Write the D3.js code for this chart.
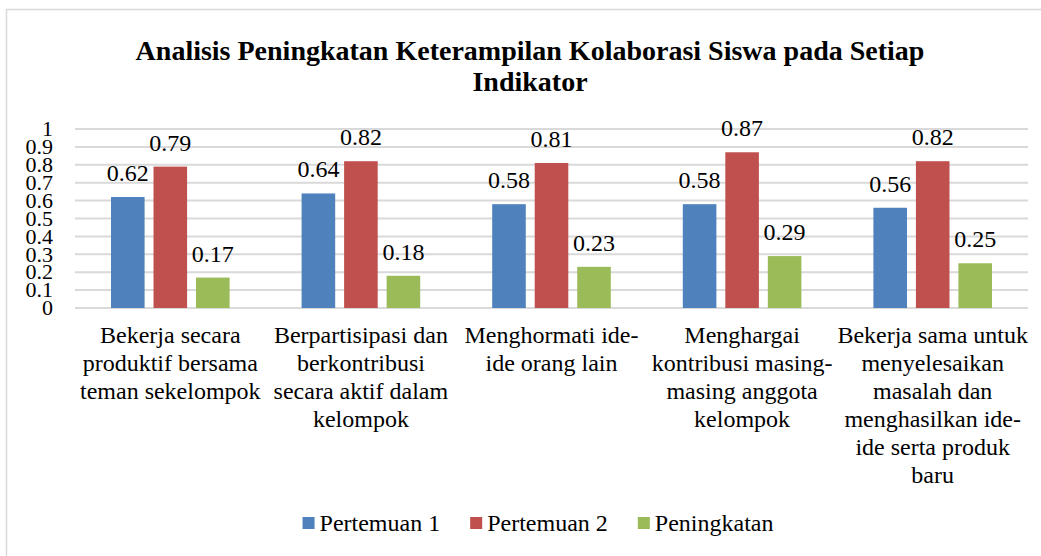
<!DOCTYPE html>
<html>
<head>
<meta charset="utf-8">
<script src="https://cdn.jsdelivr.net/npm/d3@7"></script>
<style>
  body { margin: 0; background: #fff; }
</style>
</head>
<body>
<div id="chart-area"></div>
<script>
// data
var categories = [
    "Bekerja secara produktif bersama teman sekelompok",
    "Berpartisipasi dan berkontribusi secara aktif dalam kelompok",
    "Menghormati ide-ide orang lain",
    "Menghargai kontribusi masing-masing anggota kelompok",
    "Bekerja sama untuk menyelesaikan masalah dan menghasilkan ide-ide serta produk baru"
];
// how the labels wrap in the reference
var categoryLines = [
    ["Bekerja secara", "produktif bersama", "teman sekelompok"],
    ["Berpartisipasi dan", "berkontribusi", "secara aktif dalam", "kelompok"],
    ["Menghormati ide-", "ide orang lain"],
    ["Menghargai", "kontribusi masing-", "masing anggota", "kelompok"],
    ["Bekerja sama untuk", "menyelesaikan", "masalah dan", "menghasilkan ide-", "ide serta produk", "baru"]
];
var seriesNames = ["Pertemuan 1", "Pertemuan 2", "Peningkatan"];
var pertemuan1 = [0.62, 0.64, 0.58, 0.58, 0.56];
var pertemuan2 = [0.79, 0.82, 0.81, 0.87, 0.82];
var peningkatan = [0.17, 0.18, 0.23, 0.29, 0.25];
var yTicks = [0, 0.1, 0.2, 0.3, 0.4, 0.5, 0.6, 0.7, 0.8, 0.9, 1];
var colors = ["#4f81bd", "#c0504d", "#9bbb59"];

var seriesValues = [pertemuan1, pertemuan2, peningkatan];

var width = 1041, height = 556;
var font = "Liberation Serif";

var svg = d3.select("#chart-area")
    .append("svg")
    .attr("width", width)
    .attr("height", height)
    .style("font-family", font);

// outer chart border
svg.append("rect")
    .attr("x", 6.5)
    .attr("y", 9.5)
    .attr("width", width + 10)
    .attr("height", height + 10)
    .attr("fill", "none")
    .attr("stroke", "#d9d9d9")
    .attr("stroke-width", 1.5);

// title
var title = svg.append("text")
    .attr("text-anchor", "middle")
    .style("font-family", font)
    .style("font-size", "28px")
    .style("font-weight", "bold");
title.append("tspan").attr("x", 530).attr("y", 60)
    .text("Analisis Peningkatan Keterampilan Kolaborasi Siswa pada Setiap");
title.append("tspan").attr("x", 530).attr("y", 91)
    .text("Indikator");

var x0 = d3.scaleBand()
    .domain(categories)
    .range([75, 1028]);

var x1 = d3.scaleBand()
    .domain(seriesNames)
    .range([36, x0.bandwidth() - 36])
    .paddingInner(0.21);

var y = d3.scaleLinear()
    .domain([0, 1])
    .range([308, 129]);

// gridlines
svg.append("g")
    .selectAll("line")
    .data(yTicks)
    .enter()
    .append("line")
    .attr("x1", 75)
    .attr("x2", 1028)
    .attr("y1", d => y(d))
    .attr("y2", d => y(d))
    .attr("stroke", "#d9d9d9")
    .attr("stroke-width", 2);

// y tick labels
svg.append("g")
    .selectAll("text")
    .data(yTicks)
    .enter()
    .append("text")
    .attr("x", 53)
    .attr("y", d => y(d))
    .attr("dy", "0.33em")
    .attr("text-anchor", "end")
    .style("font-family", font)
    .style("font-size", "22px")
    .text(d => d3.format("")(d));

// bars
var rows = [];
categories.forEach(function(c, i) {
    seriesNames.forEach(function(s, j) {
        rows.push({cat: c, series: s, idx: j, value: seriesValues[j][i]});
    });
});

var groups = svg.append("g");

groups.selectAll("rect")
    .data(rows)
    .enter()
    .append("rect")
    .attr("x", d => x0(d.cat) + x1(d.series))
    .attr("y", d => y(d.value))
    .attr("width", x1.bandwidth())
    .attr("height", d => y(0) - y(d.value))
    .attr("fill", d => colors[d.idx]);

groups.selectAll("text")
    .data(rows)
    .enter()
    .append("text")
    .attr("x", d => x0(d.cat) + x1(d.series) + x1.bandwidth() / 2)
    .attr("y", d => y(d.value) - 16)
    .attr("text-anchor", "middle")
    .style("font-family", font)
    .style("font-size", "24px")
    .text(d => d3.format(".2f")(d.value));

// category labels
var catLabels = svg.append("g")
    .selectAll("text")
    .data(categories)
    .enter()
    .append("text")
    .attr("text-anchor", "middle")
    .style("font-family", font)
    .style("font-size", "24px");

catLabels.each(function(d, i) {
    var t = d3.select(this);
    categoryLines[i].forEach(function(line, k) {
        t.append("tspan")
            .attr("x", x0(d) + x0.bandwidth() / 2)
            .attr("y", 343 + k * 28)
            .text(line);
    });
});

// legend
var legend = svg.append("g");
var items = legend.selectAll("g")
    .data(seriesNames)
    .enter()
    .append("g");

items.append("rect")
    .attr("width", 12)
    .attr("height", 12)
    .attr("y", 517)
    .attr("fill", (d, i) => colors[i]);

items.append("text")
    .attr("x", 17)
    .attr("y", 531)
    .style("font-family", font)
    .style("font-size", "24px")
    .text(d => d);

var pos = 0;
var offsets = [];
items.each(function() {
    offsets.push(pos);
    pos += this.getBBox().width + 30;
});
var total = pos - 30;
var start = 538 - total / 2;
items.attr("transform", (d, i) => "translate(" + (start + offsets[i]) + ",0)");
</script>
</body>
</html>
